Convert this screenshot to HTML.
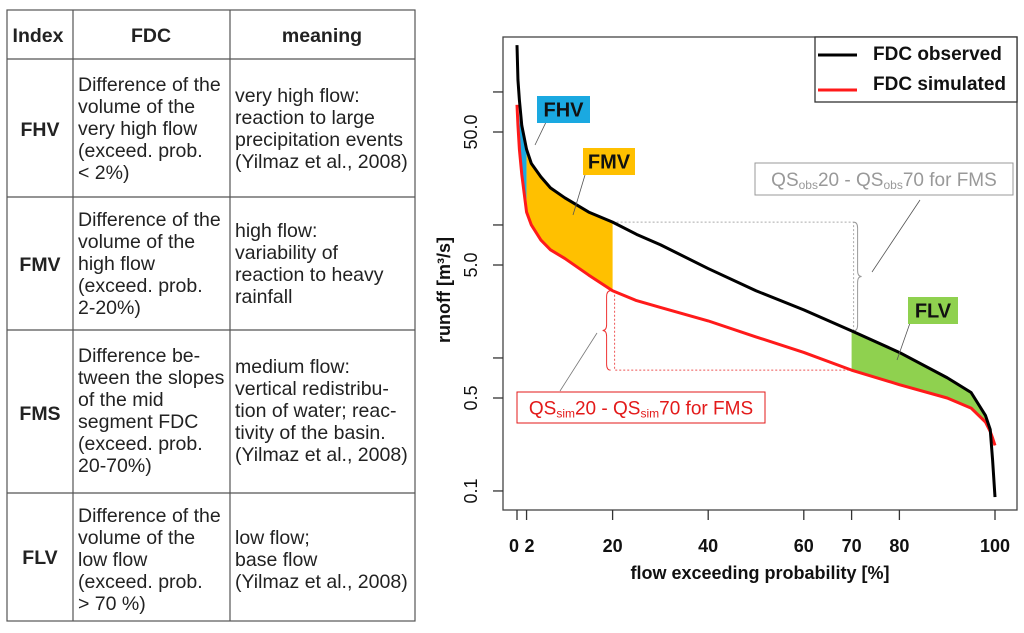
<!DOCTYPE html>
<html><head><meta charset="utf-8"><style>
html,body{margin:0;padding:0;background:#fff;}
svg{display:block;font-family:"Liberation Sans",Arial,sans-serif;}
.t{font-size:19.5px;fill:#222;}
.b{font-weight:bold;}
</style></head><body>
<svg id="svg" width="1024" height="633" viewBox="0 0 1024 633">
<g stroke="#555" stroke-width="1.2" fill="none">
<rect x="7" y="10" width="408" height="611"/>
<line x1="73" y1="10" x2="73" y2="621"/>
<line x1="230" y1="10" x2="230" y2="621"/>
<line x1="7" y1="59" x2="415" y2="59"/>
<line x1="7" y1="197" x2="415" y2="197"/>
<line x1="7" y1="330" x2="415" y2="330"/>
<line x1="7" y1="493" x2="415" y2="493"/>
</g>
<g class="t">
<text x="38" y="42" text-anchor="middle" class="b">Index</text>
<text x="151" y="42" text-anchor="middle" class="b">FDC</text>
<text x="322" y="42" text-anchor="middle" class="b">meaning</text>

<text x="40" y="136" text-anchor="middle" class="b">FHV</text>
<text x="78" y="91"><tspan x="78">Difference of the</tspan><tspan x="78" dy="22">volume of the</tspan><tspan x="78" dy="22">very high flow</tspan><tspan x="78" dy="22">(exceed. prob.</tspan><tspan x="78" dy="22">&lt; 2%)</tspan></text>
<text x="235" y="102"><tspan x="235">very high flow:</tspan><tspan x="235" dy="22">reaction to large</tspan><tspan x="235" dy="22">precipitation events</tspan><tspan x="235" dy="22">(Yilmaz et al., 2008)</tspan></text>

<text x="40" y="271" text-anchor="middle" class="b">FMV</text>
<text x="78" y="226"><tspan x="78">Difference of the</tspan><tspan x="78" dy="22">volume of the</tspan><tspan x="78" dy="22">high flow</tspan><tspan x="78" dy="22">(exceed. prob.</tspan><tspan x="78" dy="22">2-20%)</tspan></text>
<text x="235" y="237"><tspan x="235">high flow:</tspan><tspan x="235" dy="22">variability of</tspan><tspan x="235" dy="22">reaction to heavy</tspan><tspan x="235" dy="22">rainfall</tspan></text>

<text x="40" y="420" text-anchor="middle" class="b">FMS</text>
<text x="78" y="362"><tspan x="78">Difference be-</tspan><tspan x="78" dy="22">tween the slopes</tspan><tspan x="78" dy="22">of the mid</tspan><tspan x="78" dy="22">segment FDC</tspan><tspan x="78" dy="22">(exceed. prob.</tspan><tspan x="78" dy="22">20-70%)</tspan></text>
<text x="235" y="373"><tspan x="235">medium flow:</tspan><tspan x="235" dy="22">vertical redistribu-</tspan><tspan x="235" dy="22">tion of water; reac-</tspan><tspan x="235" dy="22">tivity of the basin.</tspan><tspan x="235" dy="22">(Yilmaz et al., 2008)</tspan></text>

<text x="40" y="564" text-anchor="middle" class="b">FLV</text>
<text x="78" y="522"><tspan x="78">Difference of the</tspan><tspan x="78" dy="22">volume of the</tspan><tspan x="78" dy="22">low flow</tspan><tspan x="78" dy="22">(exceed. prob.</tspan><tspan x="78" dy="22">&gt; 70 %)</tspan></text>
<text x="235" y="544"><tspan x="235">low flow;</tspan><tspan x="235" dy="22">base flow</tspan><tspan x="235" dy="22">(Yilmaz et al., 2008)</tspan></text>
</g>
<g id="chart"></g>
</svg>
<script>
const probs = [0,0.2,0.5,1,2,3,5,7,10,15,20,25,30,40,50,60,70,80,90,95,98,99,99.5,100];
const observed = [225,123,87,56,37,29,23,19,16,12.5,10.5,8.5,7.1,4.7,3.2,2.3,1.6,1.1,0.71,0.55,0.37,0.29,0.17,0.09];
const simulated = [80,56,37,24,12.5,10,7.7,6.5,5.6,4.2,3.2,2.7,2.4,1.9,1.44,1.1,0.81,0.63,0.5,0.42,0.33,0.28,0.25,0.22];
const xTicks = [0,2,20,40,60,70,80,100];
const yTicks = [100,50,10,5,1,0.5,0.1];
const yLabels = ["","50.0","","5.0","","0.5","0.1"];

const NS="http://www.w3.org/2000/svg";
const chart=document.getElementById('chart');
function X(p){return 517+4.78*p;}
function Y(v){return 265-133*Math.log10(v/5);}
function mk(tag,attrs,parent){const e=document.createElementNS(NS,tag);for(const k in attrs)e.setAttribute(k,attrs[k]);(parent||chart).appendChild(e);return e;}
function interp(arr,p){for(let i=0;i<probs.length-1;i++){if(p>=probs[i]&&p<=probs[i+1]){const t=(p-probs[i])/(probs[i+1]-probs[i]);const a=Math.log10(arr[i]),b=Math.log10(arr[i+1]);return Math.pow(10,a+t*(b-a));}}return arr[arr.length-1];}
function fillPts(p0,p1){const pts=[];const ps=[p0];probs.forEach(p=>{if(p>p0&&p<p1)ps.push(p);});ps.push(p1);
 ps.forEach(p=>pts.push(X(p)+','+Y(interp(observed,p))));
 ps.slice().reverse().forEach(p=>pts.push(X(p)+','+Y(interp(simulated,p))));return pts.join(' ');}

let e;
e=mk('polygon',{points:fillPts(0.5,2),fill:'#1aa9e1'});


e=mk('polygon',{points:fillPts(2,20),fill:'#ffc000'});


e=mk('polygon',{points:fillPts(70,99.5),fill:'#8fd14f'});



e=mk('rect',{x:503,y:37,width:514,height:473,fill:'none',stroke:'#444','stroke-width':1.3});



xTicks.forEach(p=>{
 e=mk('line',{x1:X(p),x2:X(p),y1:510,y2:520,stroke:'#333','stroke-width':1.3});
 
 
 e=mk('text',{x:X(p)+(p===0?-3:p===2?3:0),y:552,'text-anchor':'middle','font-size':18,'font-weight':'bold',fill:'#111'});
 e.textContent=p;
 
 
});
e=mk('text',{x:760,y:579,'text-anchor':'middle','font-size':18,'font-weight':'bold',fill:'#111'});
e.textContent='flow exceeding probability [%]';



yTicks.forEach((v,i)=>{
 e=mk('line',{x1:493,x2:503,y1:Y(v),y2:Y(v),stroke:'#333','stroke-width':1.3});
 
 
 if(yLabels[i]){
  e=mk('text',{x:0,y:0,'text-anchor':'middle','font-size':18,fill:'#111',transform:'translate(477,'+Y(v)+') rotate(-90)'});
  e.textContent=yLabels[i];
  
  
 }
});
e=mk('text',{x:0,y:0,'text-anchor':'middle','font-size':18,'font-weight':'bold',fill:'#111',transform:'translate(450,290) rotate(-90)'});
e.textContent='runoff [m³/s]';



e=mk('polyline',{points:X(20)+','+Y(interp(observed,20))+' '+(X(70)+2)+','+Y(interp(observed,20))+' '+(X(70)+2)+','+Y(interp(observed,70)),fill:'none',stroke:'#aaa','stroke-width':1,'stroke-dasharray':'2,2'});


e=mk('polyline',{points:(X(20)+2)+','+Y(interp(simulated,20))+' '+(X(20)+2)+','+Y(interp(simulated,70))+' '+X(70)+','+Y(interp(simulated,70)),fill:'none',stroke:'#e55','stroke-width':1,'stroke-dasharray':'2,2'});


function brace(x,y1,y2,dir,col,name){const m=(y1+y2)/2;const d='M'+x+','+y1+' q'+(4*dir)+',0 '+(4*dir)+',6 L'+(x+4*dir)+','+(m-6)+' q0,6 '+(4*dir)+',6 q'+(-4*dir)+',0 '+(-4*dir)+',6 L'+(x+4*dir)+','+(y2-6)+' q0,6 '+(-4*dir)+',6';
 const b=mk('path',{d:d,fill:'none',stroke:col,'stroke-width':1});}
brace(X(70)+2,Y(interp(observed,20)),Y(interp(observed,70)),1,'#999','obs-brace');
brace(X(20)-2,Y(interp(simulated,20)),Y(interp(simulated,70)),-1,'#e33','sim-brace');

function line(arr,col,name){const pts=probs.map((p,i)=>X(p)+','+Y(arr[i])).join(' ');const l=mk('polyline',{points:pts,fill:'none',stroke:col,'stroke-width':3,'stroke-linejoin':'round'});}
line(simulated,'#ff1a1a','simulated-line');
line(observed,'#000','observed-line');

[[535,145,548,118],[573,215,585,175],[897,360,910,323],[872,272,920,200],[560,391,597,333]].forEach(a=>{
 e=mk('line',{x1:a[0],y1:a[1],x2:a[2],y2:a[3],stroke:a[0]===560?'#777':'#555','stroke-width':0.8});
 
 
});

function box(x,y,w,h,fill,text,name){const g=mk('g',{});
 mk('rect',{x:x,y:y,width:w,height:h,fill:fill},g);
 const t=mk('text',{x:x+w/2,y:y+h/2+7,'text-anchor':'middle','font-size':20,'font-weight':'bold',fill:'#111'},g);t.textContent=text;}
box(537,96,53,27,'#1aa9e1','FHV','fhv-label');
box(583,148,52,27,'#ffc000','FMV','fmv-label');
box(908,297,50,27,'#8fd14f','FLV','flv-label');

const lg=mk('g',{});
mk('rect',{x:815,y:37,width:202,height:65,fill:'#fff',stroke:'#333','stroke-width':1.3},lg);
mk('line',{x1:818,x2:857,y1:55,y2:55,stroke:'#000','stroke-width':3},lg);
mk('line',{x1:818,x2:857,y1:90,y2:90,stroke:'#ff1a1a','stroke-width':3},lg);
e=mk('text',{x:873,y:60,'font-size':19,'font-weight':'bold',fill:'#111'},lg);e.textContent='FDC observed';


e=mk('text',{x:873,y:90,'font-size':19,'font-weight':'bold',fill:'#111'},lg);e.textContent='FDC simulated';



function qs(x,y,w,h,col,sub,name){const g=mk('g',{});
 mk('rect',{x:x,y:y,width:w,height:h,fill:'#fff',stroke:col,'stroke-width':1},g);
 const t=mk('text',{x:x+w/2,y:y+h/2+7,'text-anchor':'middle','font-size':19,fill:col},g);
 t.innerHTML='QS<tspan font-size="12" dy="3">'+sub+'</tspan><tspan dy="-3">20 - QS</tspan><tspan font-size="12" dy="3">'+sub+'</tspan><tspan dy="-3">70 for FMS</tspan>';}
qs(755,163,258,32,'#999','obs','qs-obs-label');
qs(517,392,248,31,'#e31a1a','sim','qs-sim-label');
</script>
</body></html>
